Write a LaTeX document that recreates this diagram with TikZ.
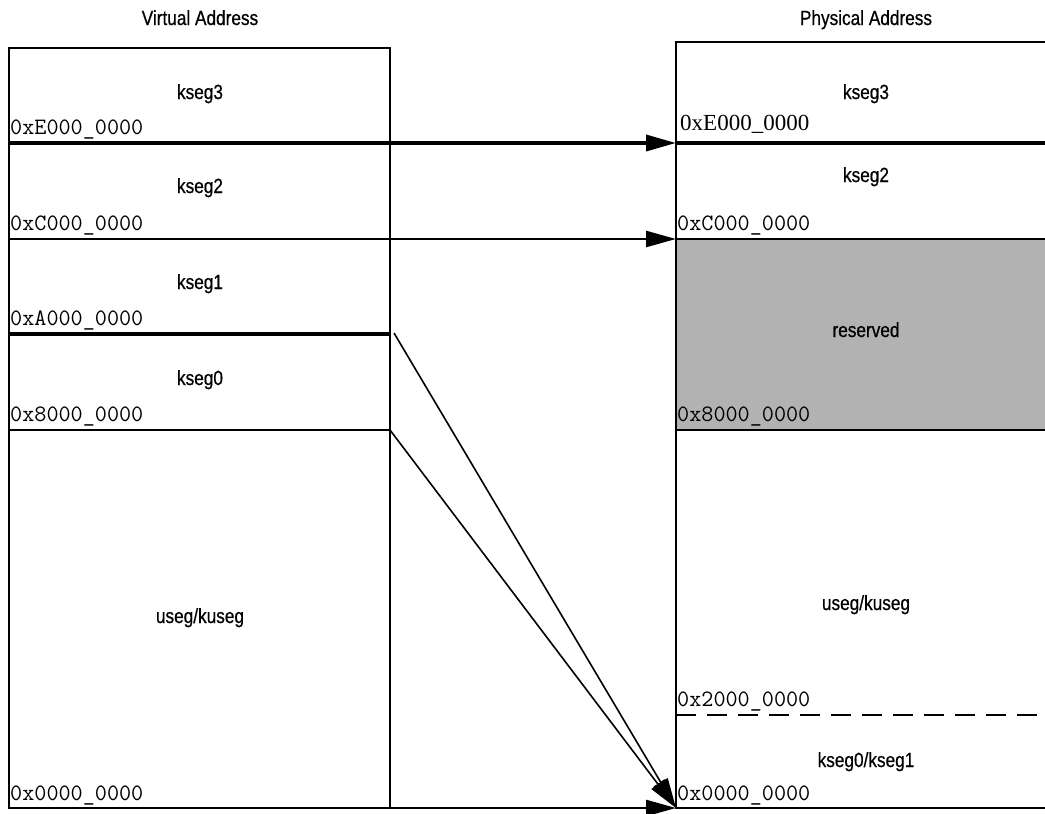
\documentclass[tikz,border=0pt]{standalone}
\usepackage{fontspec}
\setmainfont{Liberation Sans}
\newfontfamily\narrowsans[FakeStretch=0.84,FakeBold=0.6]{Liberation Sans}
\newfontfamily\addrmono{Latin Modern Mono}
\newfontfamily\addrserif{Liberation Serif}
\usetikzlibrary{arrows.meta,positioning}

\begin{document}
\begin{tikzpicture}[x=1pt, y=-1pt, >={Triangle[length=30pt,width=16pt]},
  seglbl/.style={font=\narrowsans\fontsize{20.5}{24}\selectfont, anchor=base, inner sep=0pt},
  addr/.style={font=\addrmono\fontsize{23.5}{26}\selectfont, anchor=base west, inner sep=0pt},
  map/.style={->, line width=2.5pt},
  diag/.style={->, line width=1.6pt}]
  \def\Lx{9}
  \def\Rx{390}
  \def\Px{676}
  \def\Pr{1060}
  \clip (0,0) rectangle (1045,814);
  % reserved region
  \fill[gray!60] (\Px,239) rectangle (\Pr,430);
  % virtual side
  \draw[line width=2pt] (\Lx,48) rectangle (\Rx,808);
  \draw[line width=2pt] (\Lx,239) -- (\Rx,239);
  \draw[line width=3.5pt] (\Lx,334) -- (\Rx,334);
  \draw[line width=2pt] (\Lx,430) -- (\Rx,430);
  % physical side
  \draw[line width=2pt] (\Px,42) rectangle (\Pr,808);
  \draw[line width=3.5pt] (\Px,143) -- (\Pr,143);
  \draw[line width=2pt] (\Px,239) -- (\Pr,239);
  \draw[line width=2pt] (\Px,430) -- (\Pr,430);
  \draw[line width=2pt, dash pattern=on 20pt off 11pt] (\Px,715) -- (\Pr,715);
  % mapping
  \coordinate (vE) at (\Lx,143);
  \coordinate (pE) at (\Px,143);
  \coordinate (vC) at (\Lx,239);
  \coordinate (pC) at (\Px,239);
  \coordinate (vZ) at (\Lx,808);
  \coordinate (pZ) at (\Px,808);
  \coordinate (vA) at (394,333);
  \coordinate (v8) at (390,430);
  \draw[map, line width=3.5pt] (vE) -- (pE);
  \draw[map] (vC) -- (pC);
  \draw[map] (vZ) -- (pZ);
  \draw[diag] (vA) -- (pZ);
  \draw[diag] (v8) -- (pZ);
  % titles
  \node[seglbl] (vtitle) at (200,25) {Virtual Address};
  \node[seglbl] (ptitle) at (866,25) {Physical Address};
  % virtual segments
  \node[seglbl] (vk3) at (200,99) {kseg3};
  \node[seglbl] (vk2) at (200,193) {kseg2};
  \node[seglbl] (vk1) at (200,289) {kseg1};
  \node[seglbl] (vk0) at (200,385) {kseg0};
  \node[seglbl] (vku) at (200,623) {useg/kuseg};
  \node[addr] (vaE) at (10,134) {0xE000\_0000};
  \node[addr] (vaC) at (10,230) {0xC000\_0000};
  \node[addr] (vaA) at (10,325) {0xA000\_0000};
  \node[addr] (va8) at (10,421) {0x8000\_0000};
  \node[addr] (va0) at (10,800) {0x0000\_0000};
  % physical segments
  \node[seglbl] (pk3) at (866,99) {kseg3};
  \node[seglbl] (pk2) at (866,182) {kseg2};
  \node[seglbl] (pres) at (866,337) {reserved};
  \node[seglbl] (pku) at (866,610) {useg/kuseg};
  \node[seglbl] (pk01) at (866,767) {kseg0/kseg1};
  \node[addr, font=\addrserif\fontsize{23}{26}\selectfont] (paE) at (680,130) {0xE000\_0000};
  \node[addr] (paC) at (677,230) {0xC000\_0000};
  \node[addr] (pa8) at (677,421) {0x8000\_0000};
  \node[addr] (pa2) at (677,706) {0x2000\_0000};
  \node[addr] (pa0) at (677,800) {0x0000\_0000};
\end{tikzpicture}
\end{document}
